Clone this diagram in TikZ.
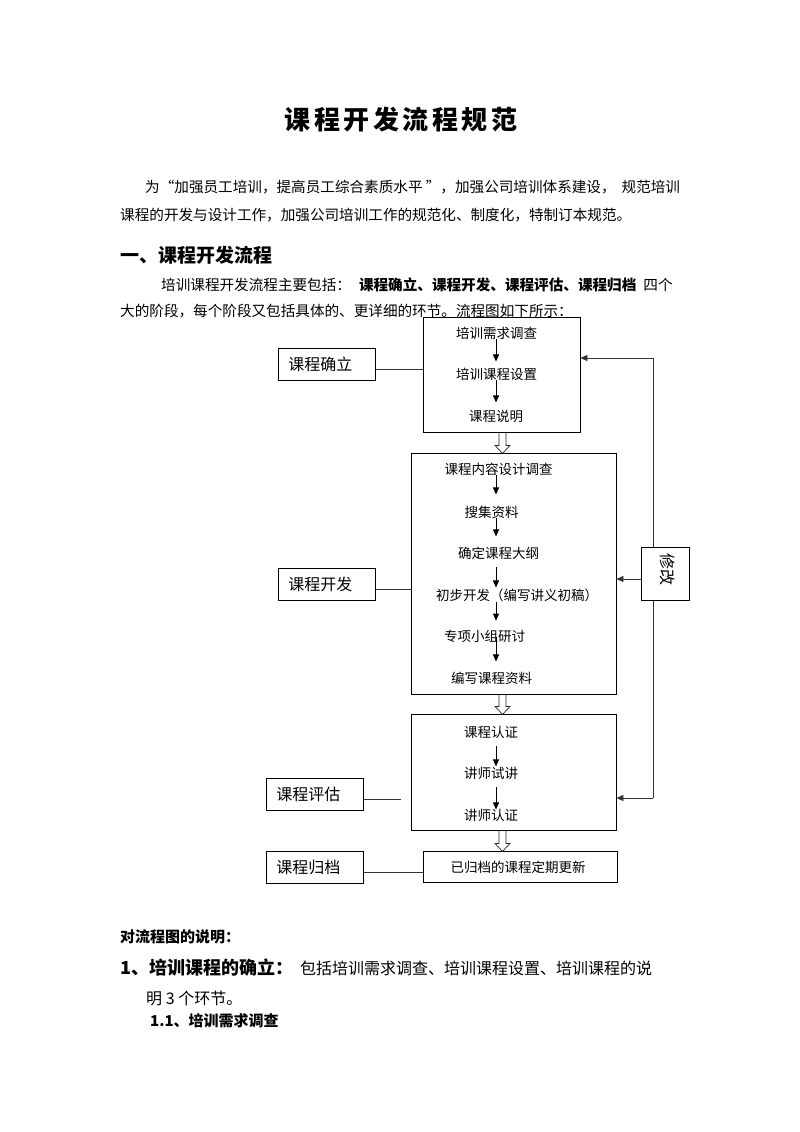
\documentclass[tikz,border=0pt]{standalone}
\usepackage{fontspec}
\setmainfont{Noto Sans CJK SC}
\usetikzlibrary{arrows.meta}
\begin{document}
\begin{tikzpicture}[x=1pt,y=-1pt,
  txt/.style={inner sep=0pt, anchor=west},
  body/.style={txt, font=\fontsize{14.6}{17}\selectfont},
  big/.style={txt, font=\fontsize{16}{18}\selectfont},
  box/.style={draw, line width=0.8pt, inner sep=0pt},
  ftxt/.style={inner sep=0pt, font=\fontsize{13.5}{15}\selectfont},
  labbox/.style={draw, line width=0.8pt, anchor=west, minimum height=32pt,
    text width=77pt, align=left, inner xsep=10pt, inner ysep=0pt,
    font=\fontsize{16}{18}\selectfont},
  arr/.style={-{Triangle[length=7pt,width=6pt]}, line width=0.8pt},
  conn/.style={line width=0.8pt, black!80},
  hollow/.style={line width=0.7pt, black!85, line join=miter}
]
\useasboundingbox (0,0) rectangle (800,1132);
\fill[white] (0,0) rectangle (800,1132);

% title and text
\node[inner sep=0pt, font=\fontsize{26}{30}\selectfont\bfseries\addfontfeature{LetterSpace=13.8}] (title) at (401,120) {课程开发流程规范};
\node[body] (p1a) at (145,187) {为“加强员工培训，提高员工综合素质水平 ”，加强公司培训体系建设，\hspace{6pt}规范培训};
\node[body] (p1b) at (120,215) {课程的开发与设计工作，加强公司培训工作的规范化、制度化，特制订本规范。};
\node[txt, font=\fontsize{19}{22}\selectfont\bfseries] (h1) at (120,255) {一、课程开发流程};
\node[body] (p2a) at (161,285) {培训课程开发流程主要包括：\hspace{8pt}\textbf{课程确立、课程开发、课程评估、课程归档}\hspace{7pt}四个};
\node[body] (p2b) at (120,311) {大的阶段，每个阶段又包括具体的、更详细的环节。流程图如下所示：};

% boxes
\node[box, minimum width=157pt, minimum height=115pt] (box1) at (501.5,374.5) {};
\node[box, minimum width=205pt, minimum height=241pt] (box2) at (513.5,573.5) {};
\node[box, minimum width=205pt, minimum height=116pt] (box3) at (513.5,772) {};
\node[box, minimum width=194pt, minimum height=31pt] (box4) at (520,866.5) {};

\coordinate (ax) at (496,0);
\coordinate (dx) at (502.5,0);

% box1 texts
\node[ftxt] (a1) at (496.5,333) {培训需求调查};
\node[ftxt] (a2) at (496.5,374) {培训课程设置};
\node[ftxt] (a3) at (496,416) {课程说明};
\draw[arr] (a1.south -| ax) -- ++(0,22);
\draw[arr] (a2.south -| ax) -- ++(0,22);

% box2 texts
\node[ftxt] (b1) at (498.5,469) {课程内容设计调查};
\node[ftxt] (b2) at (491.5,512) {搜集资料};
\node[ftxt] (b3) at (498.5,553) {确定课程大纲};
\node[ftxt] (b4) at (517,595) {初步开发（编写讲义初稿）};
\node[ftxt] (b5) at (484.5,636) {专项小组研讨};
\node[ftxt] (b6) at (491.5,678) {编写课程资料};
\draw[arr] (b1.south -| ax) -- ++(0,19);
\draw[arr] (b2.south -| ax) -- ++(0,18);
\draw[arr] (b3.south -| ax) ++(0,8) -- ++(0,20);
\draw[arr] (b4.south -| ax) -- ++(0,19);
\draw[arr] (b5.south -| ax) ++(0,-5) -- ++(0,24);

% box3 texts
\node[ftxt] (c1) at (491,732) {课程认证};
\node[ftxt] (c2) at (491,773) {讲师试讲};
\node[ftxt] (c3) at (491,815) {讲师认证};
\draw[arr] (c1.south -| ax) ++(0,8) -- ++(0,20);
\draw[arr] (c2.south -| ax) ++(0,8) -- ++(0,22);

% box4 text
\node[ftxt] (d1) at (518,867) {已归档的课程定期更新};

% hollow arrows (outline of a downward block arrow)
\draw[hollow] (box1.south -| dx) ++(-3.5,0) -- ++(0,13) -- ++(-4,0) -- ++(7.5,8) -- ++(7.5,-8) -- ++(-4,0) -- ++(0,-13);
\draw[hollow] (box2.south -| dx) ++(-3.5,0) -- ++(0,12) -- ++(-4,0) -- ++(7.5,8) -- ++(7.5,-8) -- ++(-4,0) -- ++(0,-12);
\draw[hollow] (box3.south -| dx) ++(-3.5,0) -- ++(0,13) -- ++(-4,0) -- ++(7.5,8) -- ++(7.5,-8) -- ++(-4,0) -- ++(0,-13);

% stage labels
\node[labbox] (lab1) at (278,364) {课程确立};
\node[labbox] (lab2) at (278,584) {课程开发};
\node[labbox] (lab3) at (266,794) {课程评估};
\node[labbox] (lab4) at (266,867) {课程归档};
\draw[conn] ([yshift=-5.5pt]lab1.east) -- ([yshift=-5.5pt]lab1.east -| box1.west);
\draw[conn] ([yshift=-5.5pt]lab2.east) -- ([yshift=-5.5pt]lab2.east -| box2.west);
\draw[conn] ([yshift=-5.5pt]lab3.east) -- ++(37,0);
\draw[conn] ([yshift=-5.5pt]lab4.east) -- ([yshift=-5.5pt]lab4.east -| box4.west);

% feedback loop
\coordinate (fbtop) at (653,358);
\coordinate (fbbot) at (653,798);
\draw[conn] (fbtop) -- (fbbot);
\draw[conn, arr] (fbtop) -- (fbtop -| box1.east);
\draw[conn, arr] (fbbot) -- (fbbot -| box3.east);
\node[box, fill=white, minimum width=48pt, minimum height=53pt] (xg) at (665,573.5) {};
\node[inner sep=0pt, rotate=-90, font=\fontsize{16}{18}\selectfont] (xgt) at (668,569) {修改};
\draw[conn, arr] ([yshift=-5.5pt]xg.west) -- ([yshift=-5.5pt]xg.west -| box2.east);

% explanation
\node[txt, font=\fontsize{15}{17}\selectfont\bfseries] (e0) at (120,937) {对流程图的说明：};
\node[txt, font=\fontsize{18}{20}\selectfont\bfseries] (e1) at (120,968) {1、培训课程的确立：};
\node[big] (e1b) at (300,968) {包括培训需求调查、培训课程设置、培训课程的说};
\node[big] (e2) at (146,998) {明 3 个环节。};
\node[txt, font=\fontsize{15}{17}\selectfont\bfseries] (e3) at (150,1021) {1.1、培训需求调查};
\end{tikzpicture}
\end{document}
